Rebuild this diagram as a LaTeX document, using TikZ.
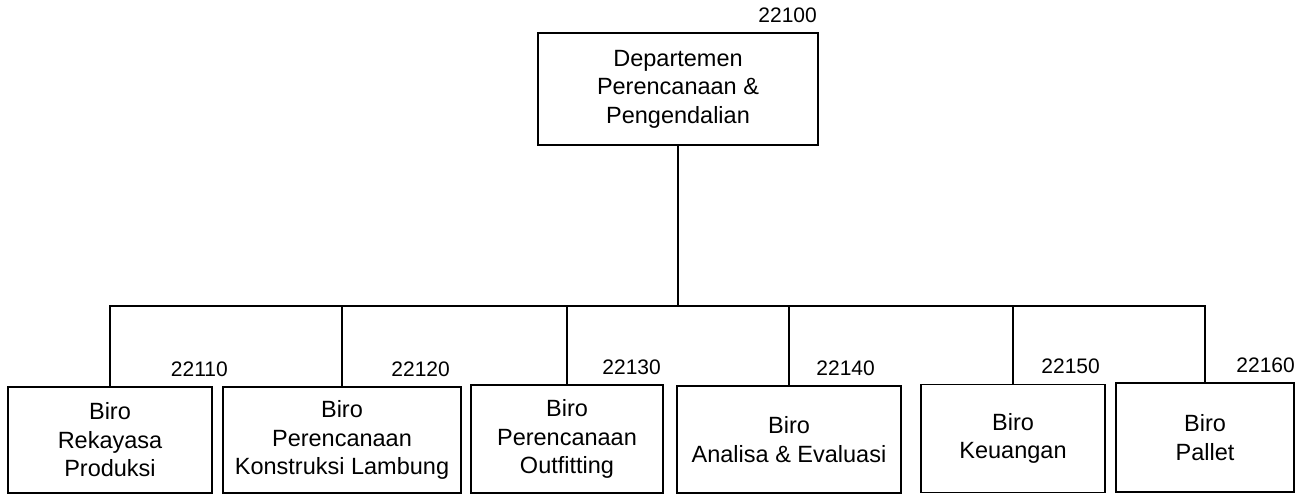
\documentclass[tikz,border=0pt]{standalone}
\usepackage{fontspec}
\setmainfont{Liberation Sans}
\begin{document}
\begin{tikzpicture}[x=1pt,y=-1pt,
  box/.style={draw=black,line width=1.6pt,rectangle,align=center,inner sep=0pt,
    font=\fontsize{23.5}{28.5}\selectfont},
  num/.style={anchor=base east,inner sep=0pt,font=\fontsize{21}{24}\selectfont},
  conn/.style={line width=1.6pt,line cap=rect}]
\useasboundingbox (0,0) rectangle (1309,495);
\node[box,minimum width=280pt,minimum height=112pt] (top) at (678,89) {Departemen\\Perencanaan \&\\Pengendalian};
\node[box,minimum width=204pt,minimum height=106pt] (b1) at (110,440) {Biro\\Rekayasa\\Produksi};
\node[box,minimum width=238pt,minimum height=106pt] (b2) at (342,440) {Biro\\Perencanaan\\Konstruksi Lambung};
\node[box,minimum width=192pt,minimum height=108pt] (b3) at (567,439) {Biro\\Perencanaan\\Outfitting};
\node[box,minimum width=224pt,minimum height=107pt] (b4) at (789,439.5) {Biro\\Analisa \& Evaluasi};
\node[box,minimum width=184pt,minimum height=108pt] (b5) at (1013,438.5) {Biro\\Keuangan};
\node[box,minimum width=178pt,minimum height=109pt] (b6) at (1205,437.5) {Biro\\Pallet};
\node[num] (n0) at (817,23) {22100};
\node[num] (n1) at (228,376) {22110};
\node[num] (n2) at (450,376) {22120};
\node[num] (n3) at (661,374) {22130};
\node[num] (n4) at (875,375) {22140};
\node[num] (n5) at (1100,373) {22150};
\node[num] (n6) at (1295,372) {22160};
\coordinate (bus) at (110,306);
\draw[conn] (top.south) -- (top.south |- bus);
\draw[conn] (b1.north) -- (b1.north |- bus) -- (b6.north |- bus) -- (b6.north);
\foreach \b in {b2,b3,b4,b5} \draw[conn] (\b.north) -- (\b.north |- bus);
\end{tikzpicture}
\end{document}
